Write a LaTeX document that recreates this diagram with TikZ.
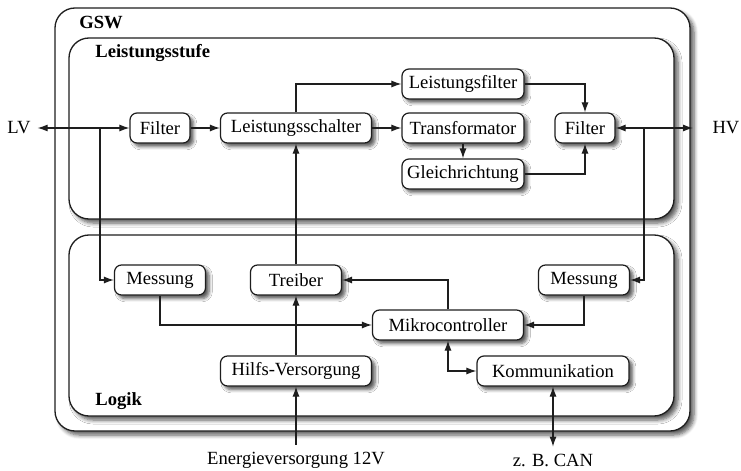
\documentclass[tikz,border=0pt]{standalone}
\usepackage{fontspec}
\setmainfont{Liberation Serif}
\usepackage{tikz}
\usetikzlibrary{arrows.meta, shadows.blur}
\definecolor{frame}{RGB}{30, 30, 30}
\definecolor{shade}{RGB}{70, 70, 70}

\begin{document}
\begin{tikzpicture}[x=0.5pt, y=-0.5pt,
    font=\fontsize{9.3}{11}\selectfont,
    >={Latex[length=5pt, width=3.5pt]},
    group/.style={draw=frame, line width=0.65pt, fill=white, rounded corners=10pt,
      blur shadow={shadow xshift=2pt, shadow yshift=-2pt, shadow opacity=65,
        shadow blur steps=6, shadow blur radius=2pt}},
    title/.style={anchor=base west, inner sep=0pt, font=\fontsize{9.3}{11}\selectfont\bfseries},
    block/.style={draw=frame, line width=0.6pt, fill=white, rounded corners=3.5pt,
      minimum height=15pt, inner sep=1pt,
      blur shadow={shadow xshift=1.8pt, shadow yshift=-1.8pt, shadow opacity=65,
        shadow blur steps=5, shadow blur radius=1.6pt}},
    link/.style={draw=frame, line width=0.55pt, ->}]

  \useasboundingbox (0, 0) rectangle (741, 471);

  % frames
  \draw[group] (55, 8) rectangle (690, 431);
  \node[title] (gsw) at (79, 28) {GSW};

  \draw[group] (69, 38) rectangle (674, 219);
  \node[title] (stufe) at (95, 57) {Leistungsstufe};

  \draw[group] (69, 235) rectangle (674, 416);
  \node[title] (logik) at (95, 405) {Logik};

  \begin{scope}
  
    % power path
    \node[block, minimum width=30pt]   (filterlv) at (160, 128) {Filter};
    \node[block, minimum width=75.5pt] (schalter) at (296, 128) {Leistungsschalter};
    \node[block, minimum width=61pt]   (lfilter)  at (463, 84)  {Leistungsfilter};
    \node[block, minimum width=61pt]   (trafo)    at (463, 128) {Transformator};
    \node[block, minimum width=61pt]   (gleich)   at (463, 174) {Gleichrichtung};
    \node[block, minimum width=30pt]   (filterhv) at (585, 128) {Filter};
    
    \node (lv) at (19, 128) {LV};
    \coordinate (hvend) at (693, 128);
    \node (hv) at (726, 128) {HV};
    
    \coordinate (lvsplit) at (100, 128);
    \coordinate (hvsplit) at (644, 128);
    
  \end{scope}
  
  \begin{scope}
  
    % control path
    \node[block, minimum width=45.5pt] (messlv)  at (160, 280) {Messung};
    \node[block, minimum width=45.5pt] (treiber) at (296, 280) {Treiber};
    \node[block, minimum width=45.5pt] (messhv)  at (584, 280) {Messung};
    \node[block, minimum width=75.5pt] (mikro)   at (448, 325) {Mikrocontroller};
    \node[block, minimum width=75.5pt] (hilfs)   at (296, 371) {Hilfs-Versorgung};
    \node[block, minimum width=76pt]   (komm)    at (553, 371) {Kommunikation};
    
    \node (energie) at (296, 460) {Energieversorgung 12V};
    \node (can)     at (553, 460) {z. B. CAN};
    
  \end{scope}

  \draw[link, <->] (lv) -- (filterlv);
  \draw[link] (lvsplit) |- (messlv);
  \draw[link] (filterlv) -- (schalter);
  \draw[link] (schalter) -- (trafo);
  \draw[link] (schalter.north) |- (lfilter);
  \draw[link] (trafo) -- (gleich);
  \draw[link] (lfilter) -| (filterhv);
  \draw[link] (gleich) -| (filterhv);
  \draw[link, <->] (filterhv) -- (hvend);
  \draw[link] (hvsplit) |- (messhv);

  \draw[link] (energie) -- (hilfs);
  \draw[link] (hilfs) -- (treiber);
  \draw[link] (treiber) -- (schalter);
  \draw[link] (messlv) |- (mikro);
  \draw[link] (mikro) |- (treiber);
  \draw[link] (messhv) |- (mikro);
  \draw[link, <->] (mikro) |- (komm);
  \draw[link, <->] (komm) -- (can);

\end{tikzpicture}
\end{document}
